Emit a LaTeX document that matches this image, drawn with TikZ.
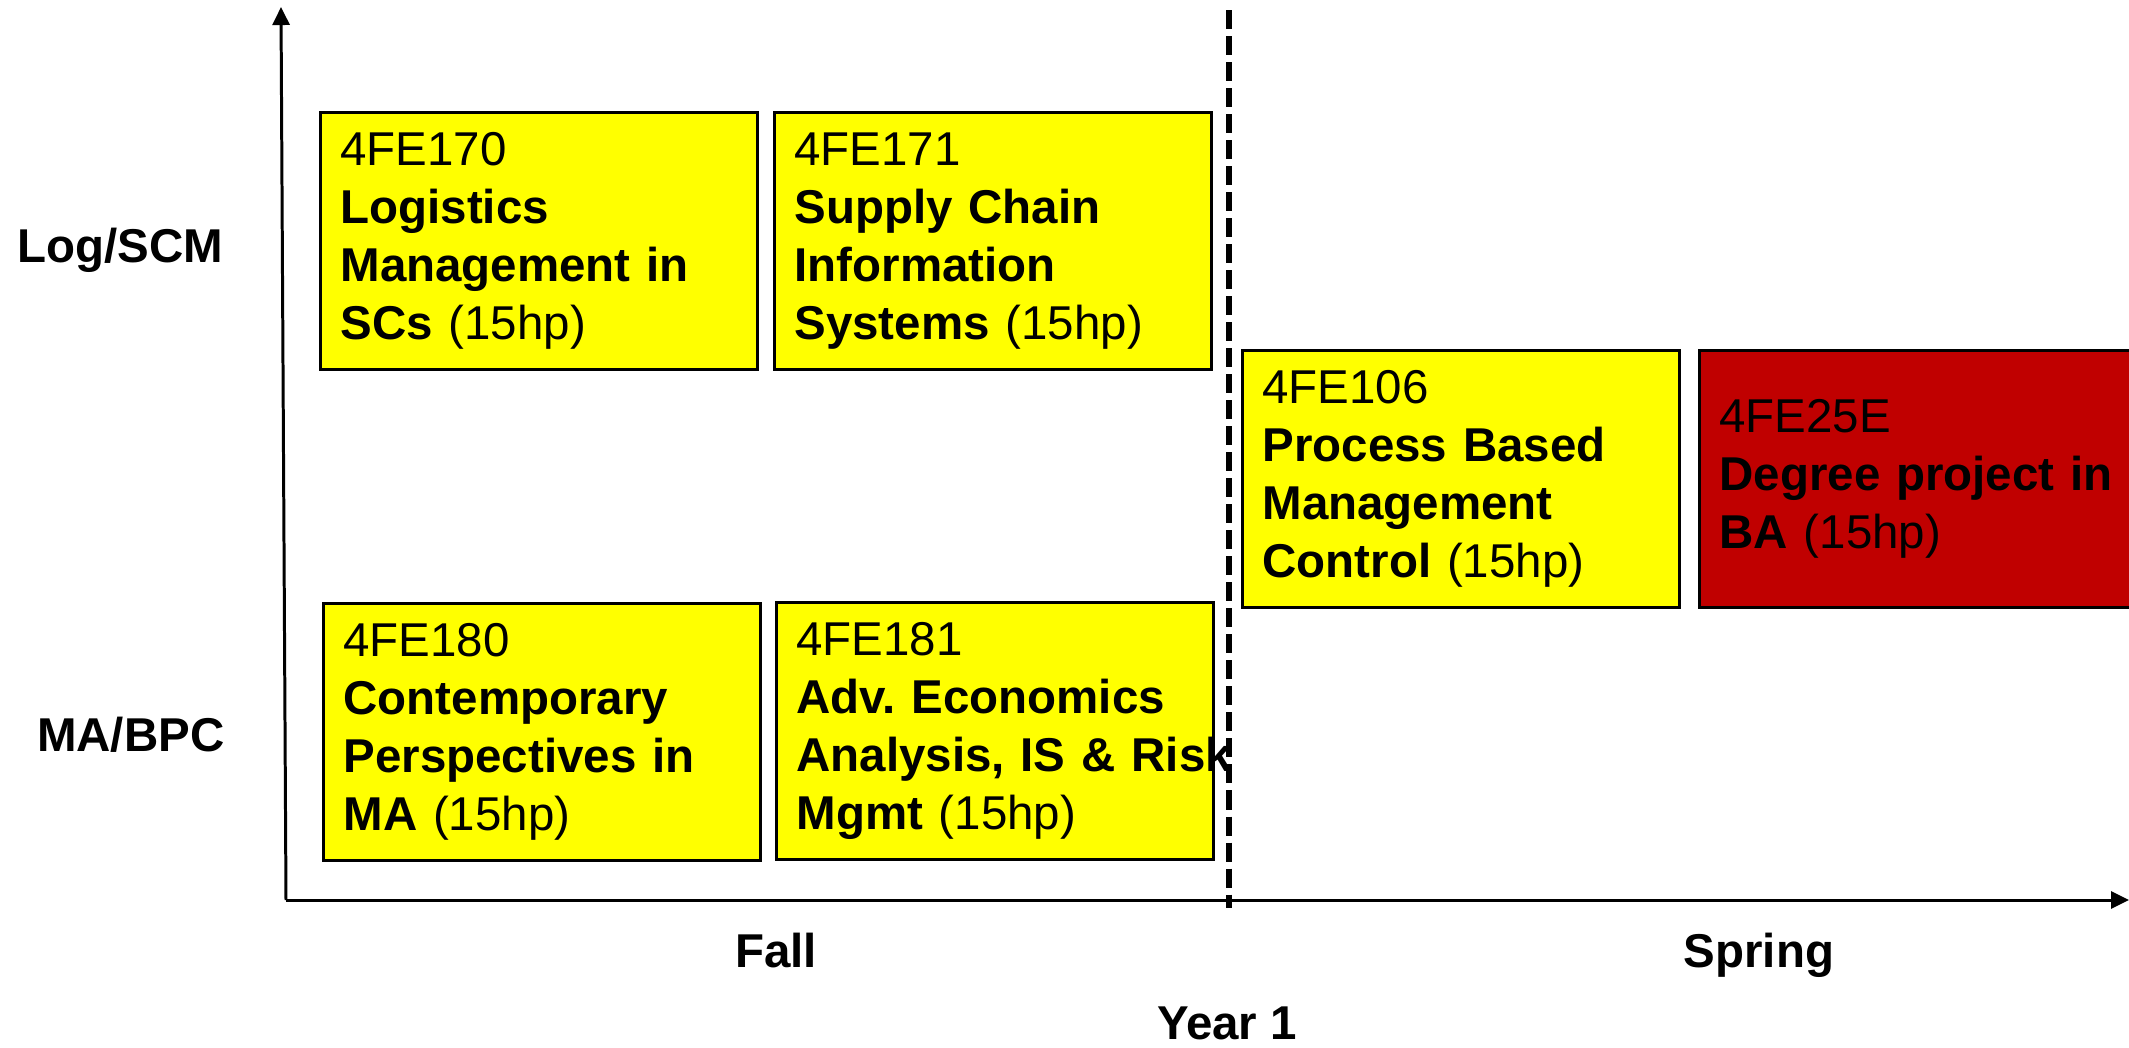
\documentclass[tikz,border=0pt]{standalone}
\usepackage{fontspec}
\setmainfont{Liberation Sans}
\usetikzlibrary{arrows.meta}

\definecolor{courseyellow}{HTML}{FFFF00}
\definecolor{projred}{HTML}{C00000}

\tikzset{
  course/.style={draw, line width=0.85pt, fill=courseyellow, anchor=north west,
    minimum height=2.57cm, text width=3.97cm, inner xsep=0.2cm, inner ysep=0pt,
    align=left, font=\frenchspacing\fontsize{13.5}{16.5}\selectfont},
  lbl/.style={font=\bfseries\fontsize{13.5}{16.5}\selectfont, inner sep=0pt},
  axis/.style={draw, line width=0.85pt, -{Triangle[length=0.18cm,width=0.17cm]}}
}

\begin{document}
\begin{tikzpicture}[x=0.01cm,y=-0.01cm]
\useasboundingbox (0,0) rectangle (2129,1047);

\node[course] at (319,111) (c170) {4FE170\\\textbf{Logistics}\\\textbf{Management in}\\\textbf{SCs} (15hp)};
\node[course] at (773,111) (c171) {4FE171\\\textbf{Supply Chain}\\\textbf{Information}\\\textbf{Systems} (15hp)};
\node[course] at (322,602) (c180) {4FE180\\\textbf{Contemporary}\\\textbf{Perspectives in}\\\textbf{MA} (15hp)};
\node[course] at (775,601) (c181) {4FE181\\\textbf{Adv. Economics}\\\mbox{\textbf{Analysis, IS \& Risk}}\\\textbf{Mgmt} (15hp)};
\node[course] at (1241,349) (c106) {4FE106\\\textbf{Process Based}\\\textbf{Management}\\\textbf{Control} (15hp)};
\node[course, fill=projred, text width=4.05cm] at (1698,349) (c25E) {4FE25E\\\textbf{Degree project in}\\\textbf{BA} (15hp)};

\node[lbl, anchor=base east] at (224,262) (log) {Log/SCM};
\node[lbl, anchor=base east] at (225,751) (ma) {MA/BPC};
\node[lbl, anchor=base] at (776,967) (fall) {Fall};
\node[lbl, anchor=base] at (1759,967) (spring) {Spring};
\node[lbl, anchor=base] at (1227,1039) (year) {Year 1};

\coordinate (o) at (286,900);
\coordinate (ytop) at (281,7);
\coordinate (xend) at (2129,900);
\coordinate (dtop) at (1229,10);
\coordinate (dbot) at (1229,908);

\path[axis] (o) to (ytop);
\path[axis] (o) to (xend);
\path[draw, line width=1.8pt, dash pattern=on 0.19cm off 0.07cm] (dtop) to (dbot);

\end{tikzpicture}
\end{document}
